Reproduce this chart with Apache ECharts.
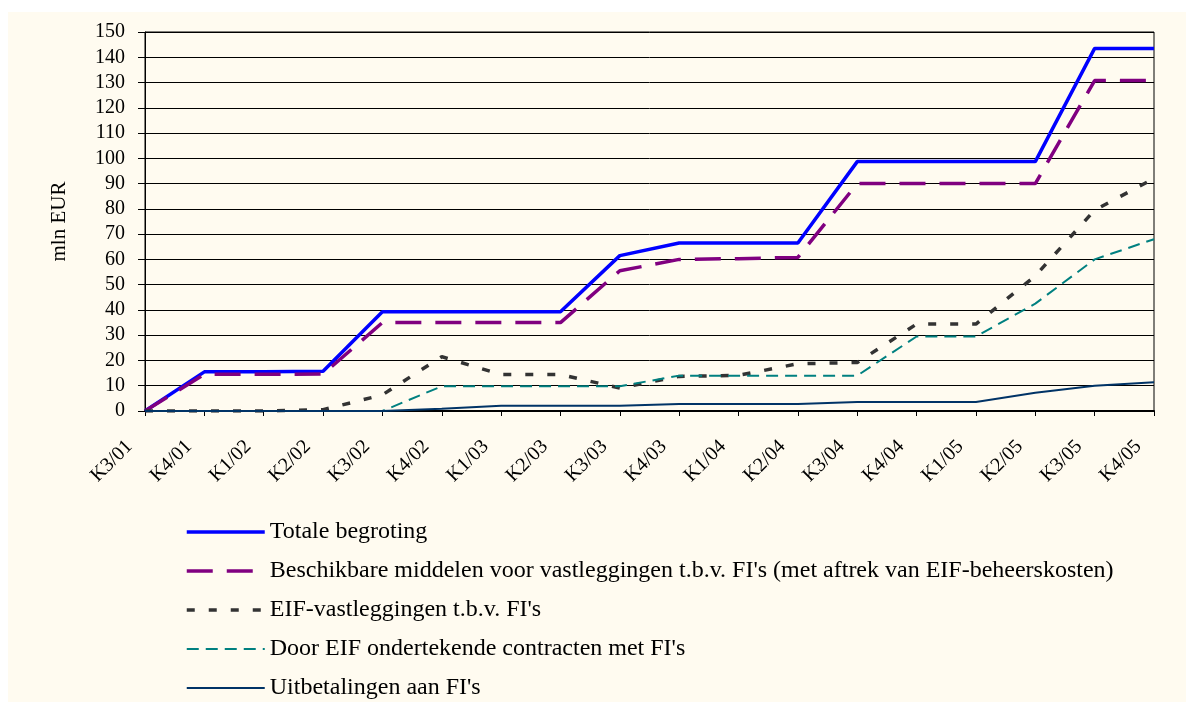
<!DOCTYPE html>
<html>
<head>
<meta charset="utf-8">
<script src="https://cdn.jsdelivr.net/npm/echarts@6/dist/echarts.min.js"></script>
<style>
  html, body { margin: 0; padding: 0; background: #ffffff; }
  #wrap { position: absolute; left: 8px; top: 12px; width: 1178px; height: 690px; background: #fffbf0; }
  #chart { position: absolute; left: -8px; top: -12px; width: 1186px; height: 702px; }
</style>
</head>
<body>
<div id="wrap"><div id="chart"></div></div>
<script>
// kwartalen
const categories = ['K3/01', 'K4/01', 'K1/02', 'K2/02', 'K3/02', 'K4/02', 'K1/03', 'K2/03', 'K3/03',
  'K4/03', 'K1/04', 'K2/04', 'K3/04', 'K4/04', 'K1/05', 'K2/05', 'K3/05', 'K4/05'];

const totaleBegroting = [0, 15.5, 15.5, 15.7, 39.3, 39.3, 39.3, 39.3, 61.5, 66.5, 66.5, 66.5, 98.7, 98.7, 98.7, 98.7, 143.5, 143.5];
const beschikbaar = [0, 14.5, 14.5, 14.6, 35, 35, 35, 35, 55.5, 60, 60.3, 60.8, 90, 90, 90, 90, 130.8, 130.8];
const eifVastleggingen = [0, 0, 0, 0.5, 6.4, 21.5, 14.4, 14.4, 9.1, 13.7, 14.1, 18.7, 19.2, 34.4, 34.4, 53.5, 79.5, 92];
const contracten = [0, 0, 0, 0, 0, 9.8, 9.8, 9.8, 9.8, 14, 14, 14, 14, 29.5, 29.5, 42.5, 60, 68];
const uitbetalingen = [0, 0, 0, 0, 0, 0.9, 2.1, 2.1, 2.1, 2.8, 2.8, 2.8, 3.6, 3.6, 3.6, 7.2, 10, 11.4];

const seriesNames = [
  'Totale begroting',
  "Beschikbare middelen voor vastleggingen t.b.v. FI's (met aftrek van EIF-beheerskosten)",
  "EIF-vastleggingen t.b.v. FI's",
  "Door EIF ondertekende contracten met FI's",
  "Uitbetalingen aan FI's"
];
const lineWidths = [3.5, 3.5, 3.5, 2, 2];

const font = '"Liberation Serif", "Times New Roman", serif';

function lineSeries(name, data, color, width, type) {
  return {
    name: name,
    type: 'line',
    data: data,
    symbol: 'none',
    animation: false,
    lineStyle: { color: color, width: width, type: type },
    itemStyle: { color: color }
  };
}

const chart = echarts.init(document.getElementById('chart'));
chart.setOption({
  backgroundColor: 'transparent',
  textStyle: { fontFamily: font, color: '#000' },
  grid: {
    left: 145, right: 32, top: 32, bottom: 291,
    show: true, borderColor: '#000', borderWidth: 1, backgroundColor: 'transparent'
  },
  legend: {
    orient: 'vertical',
    left: 185,
    top: 520,
    height: 190,
    padding: 0,
    itemWidth: 78,
    itemHeight: 14,
    itemGap: 15,
    itemStyle: { opacity: 0 },
    textStyle: { fontFamily: font, fontSize: 24, lineHeight: 24, color: '#000' },
    data: seriesNames.map((n, i) => ({ name: n, lineStyle: { width: lineWidths[i] } }))
  },
  xAxis: {
    type: 'category',
    data: categories,
    boundaryGap: false,
    axisLine: { lineStyle: { color: '#000', width: 2 } },
    axisTick: { show: true, length: 5, lineStyle: { color: '#000' } },
    axisLabel: {
      rotate: 45, fontSize: 20, color: '#000', fontFamily: font,
      margin: 17, interval: 0, padding: [0, 22, 0, 0]
    },
    splitLine: { show: false }
  },
  yAxis: {
    type: 'value',
    min: 0,
    max: 150,
    interval: 10,
    name: 'mln EUR',
    nameLocation: 'middle',
    nameGap: 75,
    nameRotate: 90,
    nameTextStyle: { fontFamily: font, fontSize: 21, color: '#000' },
    axisLine: { show: true, lineStyle: { color: '#000', width: 1 } },
    axisTick: { show: true, length: 7, lineStyle: { color: '#000' } },
    axisLabel: { fontSize: 20, color: '#000', fontFamily: font, margin: 20 },
    splitLine: { show: true, lineStyle: { color: '#000', width: 1 } }
  },
  series: [
    lineSeries(seriesNames[0], totaleBegroting, '#0000ff', lineWidths[0], 'solid'),
    lineSeries(seriesNames[1], beschikbaar, '#800080', lineWidths[1], [26, 14]),
    lineSeries(seriesNames[2], eifVastleggingen, '#333333', lineWidths[2], [8, 14]),
    lineSeries(seriesNames[3], contracten, '#008080', lineWidths[3], [12, 7]),
    lineSeries(seriesNames[4], uitbetalingen, '#003366', lineWidths[4], 'solid')
  ]
});
</script>
</body>
</html>
